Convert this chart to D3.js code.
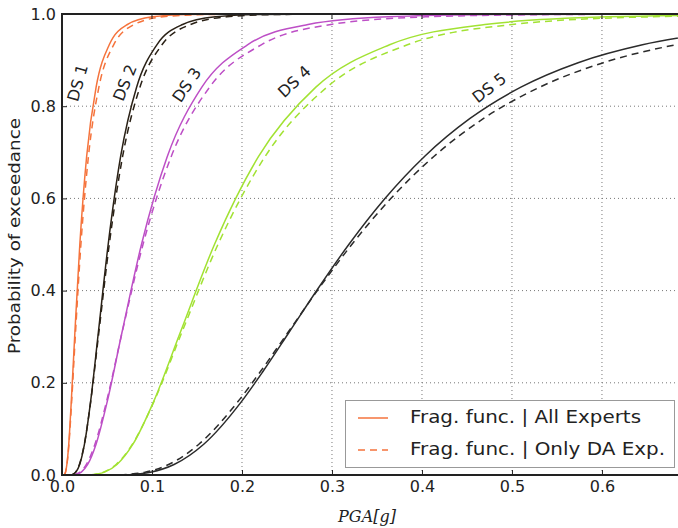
<!DOCTYPE html>
<html><head><meta charset="utf-8">
<script src="https://cdn.jsdelivr.net/npm/d3@7"></script>
<style>body{margin:0;background:#fff}svg{display:block}</style>
</head><body><svg id="c" width="678" height="528"></svg>
<script>
// ---- data (PGA [g], probability of exceedance) ----
const ds1All = [[0.0025,0],[0.0028,0.0013],[0.0039,0.0062],[0.0054,0.0228],[0.0075,0.0668],[0.0103,0.1587],[0.0143,0.3085],[0.0198,0.5],[0.0274,0.6915],[0.0379,0.8413],[0.0525,0.9332],[0.0727,0.9772],[0.1005,0.9938],[0.139,0.9987],[0.193,0.9998],[0.69,1]];
const ds1DA  = [[0.0025,0],[0.0028,0.0013],[0.0039,0.0062],[0.0055,0.0228],[0.0077,0.0668],[0.0107,0.1587],[0.015,0.3085],[0.021,0.5],[0.0294,0.6915],[0.041,0.8413],[0.0574,0.9332],[0.0802,0.9772],[0.1121,0.9938],[0.1567,0.9987],[0.219,0.9998],[0.69,1]];
const ds2All = [[0.0110,0],[0.01215,0.0013],[0.01545,0.0062],[0.01964,0.0228],[0.02497,0.0668],[0.03174,0.1587],[0.04035,0.3085],[0.0513,0.5],[0.0652,0.6915],[0.0829,0.8413],[0.1054,0.9332],[0.134,0.9772],[0.1703,0.9938],[0.2165,0.9987],[0.3,0.9999],[0.69,1]];
const ds2DA  = [[0.0105,0],[0.01171,0.0013],[0.01504,0.0062],[0.01931,0.0228],[0.0248,0.0668],[0.03184,0.1587],[0.04089,0.3085],[0.0525,0.5],[0.0674,0.6915],[0.0866,0.8413],[0.1111,0.9332],[0.1427,0.9772],[0.1832,0.9938],[0.2353,0.9987],[0.32,0.9999],[0.69,1]];
const ds3All = [[0.0150,0],[0.01621,0.0013],[0.0215,0.0062],[0.02852,0.0228],[0.03784,0.0668],[0.0502,0.1587],[0.06657,0.3085],[0.0883,0.5],[0.1171,0.6915],[0.1554,0.8413],[0.2061,0.9332],[0.2734,0.9772],[0.3626,0.9938],[0.481,0.9987],[0.638,0.9998],[0.69,1]];
const ds3DA  = [[0.0135,0],[0.01488,0.0013],[0.02008,0.0062],[0.0271,0.0228],[0.0366,0.0668],[0.0494,0.1587],[0.0667,0.3085],[0.09,0.5],[0.1215,0.6915],[0.164,0.8413],[0.2214,0.9332],[0.2988,0.9772],[0.4034,0.9938],[0.5445,0.9987],[0.69,0.9998]];
const ds4All = [[0.033,0],[0.03668,0.0013],[0.04733,0.0062],[0.0611,0.0228],[0.0788,0.0668],[0.1017,0.1587],[0.1313,0.3085],[0.1694,0.5],[0.2186,0.6915],[0.2821,0.8413],[0.364,0.9332],[0.4698,0.9772],[0.6062,0.9938],[0.7823,0.9987]];
const ds4DA  = [[0.032,0],[0.03534,0.0013],[0.04606,0.0062],[0.06005,0.0228],[0.07826,0.0668],[0.102,0.1587],[0.133,0.3085],[0.1733,0.5],[0.2259,0.6915],[0.2944,0.8413],[0.3838,0.9332],[0.5002,0.9772],[0.652,0.9938],[0.8498,0.9987]];
const ds5All = [[0.07,0],[0.0778,0.0013],[0.0984,0.0062],[0.1245,0.0228],[0.1575,0.0668],[0.1992,0.1587],[0.224,0.2266],[0.252,0.3085],[0.2834,0.4013],[0.3187,0.5],[0.3584,0.5987],[0.4031,0.6915],[0.4534,0.7734],[0.5099,0.8413],[0.5735,0.8944],[0.645,0.9332],[0.7254,0.9599]];
const ds5DA  = [[0.064,0],[0.0718,0.0013],[0.0923,0.0062],[0.1185,0.0228],[0.1521,0.0668],[0.1953,0.1587],[0.2213,0.2266],[0.2508,0.3085],[0.2842,0.4013],[0.322,0.5],[0.3649,0.5987],[0.4135,0.6915],[0.4685,0.7734],[0.5309,0.8413],[0.6016,0.8944],[0.6817,0.9332],[0.7724,0.9599]];

const seriesNames = ["DS 1","DS 2","DS 3","DS 4","DS 5"];
const seriesColors = ["#f5733c","#2a2116","#bd4fc6","#a2e233","#2b2b2b"];
const xTicks = [0,0.1,0.2,0.3,0.4,0.5,0.6];
const yTicks = [0,0.2,0.4,0.6,0.8,1.0];
const legendLabels = ["Frag. func. | All Experts","Frag. func. | Only DA Exp."];
// label placement (data coords) and angle
const labelPos = [[0.0185,0.85],[0.071,0.85],[0.1395,0.845],[0.259,0.852],[0.4755,0.838]];
const labelAngle = [-74,-68,-56,-43,-38];

// ---- drawing ----
const svg = d3.select("#c");
const L=62, R=678, T=14, B=475;
const x = d3.scaleLinear().domain([0,0.6845]).range([L,R]);
const y = d3.scaleLinear().domain([0,1]).range([B,T]);
const font = "'DejaVu Sans', sans-serif";

svg.append("defs").append("clipPath").attr("id","clip")
  .append("rect").attr("x",L).attr("y",T).attr("width",R-L).attr("height",B-T);

// grid
const g = svg.append("g");
g.selectAll(".gx").data(xTicks.filter(d=>d>0)).enter().append("line")
  .attr("x1",d=>x(d)).attr("x2",d=>x(d)).attr("y1",T).attr("y2",B)
  .attr("stroke","#777").attr("stroke-width",1).attr("stroke-dasharray","1,3");
g.selectAll(".gy").data(yTicks.filter(d=>d>0&&d<1)).enter().append("line")
  .attr("x1",L).attr("x2",R).attr("y1",d=>y(d)).attr("y2",d=>y(d))
  .attr("stroke","#777").attr("stroke-width",1).attr("stroke-dasharray","1,3");

// curves
const line = d3.line().x(d=>x(d[0])).y(d=>y(d[1])).curve(d3.curveMonotoneX);
const allSets = [ds1All,ds2All,ds3All,ds4All,ds5All];
const daSets = [ds1DA,ds2DA,ds3DA,ds4DA,ds5DA];
const cg = svg.append("g").attr("clip-path","url(#clip)");
daSets.forEach((s,i)=>{
  cg.append("path").attr("d",line(s)).attr("fill","none")
    .attr("stroke",seriesColors[i]).attr("stroke-width",1.5).attr("stroke-dasharray","7,5");
});
allSets.forEach((s,i)=>{
  cg.append("path").attr("d",line(s)).attr("fill","none")
    .attr("stroke",seriesColors[i]).attr("stroke-width",1.5);
});

// DS labels
labelPos.forEach((p,i)=>{
  svg.append("text").attr("transform",`translate(${x(p[0])},${y(p[1])}) rotate(${labelAngle[i]})`)
    .attr("text-anchor","middle").attr("dominant-baseline","middle")
    .attr("font-family",font).attr("font-size",16).attr("fill","#222").text(seriesNames[i]);
});

// axes
const xAxis = d3.axisBottom(x).tickValues(xTicks).tickFormat(d3.format(".1f")).tickSizeInner(-5).tickSizeOuter(0).tickPadding(6);
const yAxis = d3.axisLeft(y).tickValues(yTicks).tickFormat(d3.format(".1f")).tickSizeInner(-5).tickSizeOuter(0).tickPadding(6);
const xa = svg.append("g").attr("transform",`translate(0,${B})`).call(xAxis);
const ya = svg.append("g").attr("transform",`translate(${L},0)`).call(yAxis);
[xa,ya].forEach(a=>{
  a.select(".domain").remove();
  a.selectAll(".tick line").attr("stroke","#222").attr("stroke-width",1);
  a.selectAll("text").attr("font-family",font).attr("font-size",16).attr("fill","#222");
});
// top ticks
svg.selectAll(".tt").data(xTicks).enter().append("line")
  .attr("x1",d=>x(d)).attr("x2",d=>x(d)).attr("y1",T).attr("y2",T+5).attr("stroke","#222");

// frame
svg.append("line").attr("x1",L).attr("x2",R).attr("y1",T).attr("y2",T).attr("stroke","#222").attr("stroke-width",2);
svg.append("line").attr("x1",L).attr("x2",R).attr("y1",B).attr("y2",B).attr("stroke","#222").attr("stroke-width",2);
svg.append("line").attr("x1",L).attr("x2",L).attr("y1",T-1).attr("y2",B+1).attr("stroke","#222").attr("stroke-width",2);

// axis labels
svg.append("text").attr("x",367).attr("y",522).attr("text-anchor","middle")
  .attr("font-family","'DejaVu Serif', serif").attr("font-style","italic").attr("font-size",16).attr("fill","#222")
  .text("PGA[g]");
svg.append("text").attr("transform",`translate(15,236) rotate(-90)`).attr("text-anchor","middle")
  .attr("dominant-baseline","middle").attr("font-family",font).attr("font-size",16).attr("fill","#222")
  .attr("textLength",236).attr("lengthAdjust","spacingAndGlyphs")
  .text("Probability of exceedance");

// legend
const lg = svg.append("g");
lg.append("rect").attr("x",345.5).attr("y",400.5).attr("width",329).attr("height",67)
  .attr("fill","#fff").attr("stroke","#999").attr("stroke-width",1);
const legendWidths = [231,255];
legendLabels.forEach((t,i)=>{
  const yy = 418 + i*32;
  lg.append("line").attr("x1",358).attr("x2",388).attr("y1",yy).attr("y2",yy)
    .attr("stroke",seriesColors[0]).attr("stroke-width",1.5)
    .attr("stroke-dasharray",i===1?"7,5":null);
  lg.append("text").attr("x",410).attr("y",yy).attr("dominant-baseline","middle")
    .attr("font-family",font).attr("font-size",18).attr("fill","#222")
    .attr("textLength",legendWidths[i]).attr("lengthAdjust","spacingAndGlyphs").text(t);
});
</script></body></html>
